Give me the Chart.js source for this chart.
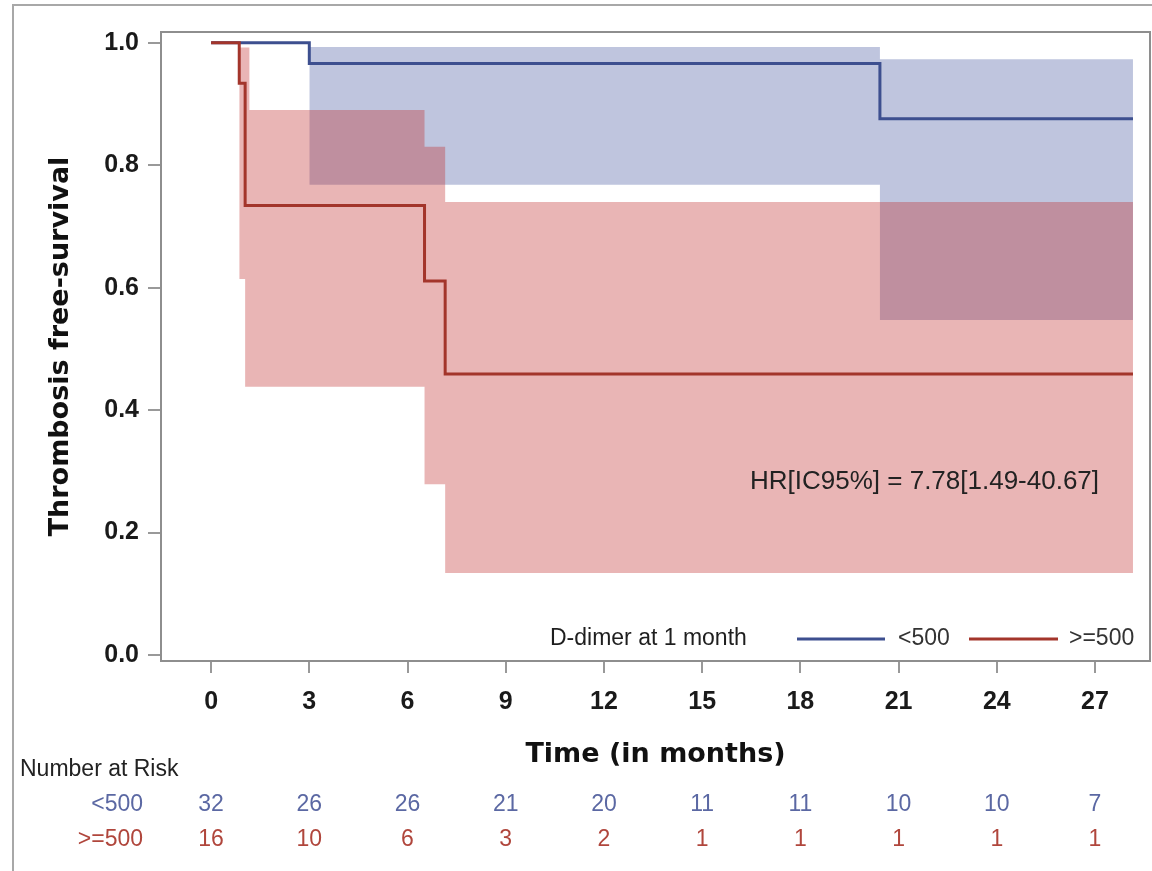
<!DOCTYPE html>
<html>
<head>
<meta charset="utf-8">
<title>Thrombosis free-survival</title>
<script src="https://cdn.jsdelivr.net/npm/chart.js@4.4.1/dist/chart.umd.min.js"></script>
<style>
    html, body { margin: 0; padding: 0; background: #fff; }
    canvas { display: block; }
</style>
</head>
<body>
<canvas id="kmChart" width="1152" height="871"></canvas>
<script>
// curva D-dimer < 500
var timeLow = [0, 3.0, 20.43, 28.16];
var survLow = [1, 0.966, 0.876, 0.876];
// banda IC < 500
var bandTimeLow = [3.0, 20.43, 28.16];
var upperLow = [0.993, 0.973, 0.973];
var lowerLow = [0.768, 0.547, 0.547];

// curva D-dimer >= 500
var timeHigh = [0, 0.86, 1.04, 6.52, 7.15, 28.16];
var survHigh = [1, 0.934, 0.734, 0.611, 0.459, 0.459];
// banda IC >= 500
var bandTimeHigh = [0.86, 1.04, 1.17, 6.52, 7.15, 28.16];
var upperHigh = [0.992, 0.992, 0.890, 0.830, 0.740, 0.740];
var lowerHigh = [0.614, 0.438, 0.438, 0.279, 0.134, 0.134];

var xTicks = [0, 3, 6, 9, 12, 15, 18, 21, 24, 27];
var yTicks = [0, 0.2, 0.4, 0.6, 0.8, 1.0];

// numero em risco
var riskLow = [32, 26, 26, 21, 20, 11, 11, 10, 10, 7];
var riskHigh = [16, 10, 6, 3, 2, 1, 1, 1, 1, 1];

var corAzul = '#3d4f8f';
var corVermelho = '#a3352b';
var fonteTexto = '"Liberation Sans", Arial, sans-serif';

function pontos(xs, ys) {
    var out = [];
    for (var i = 0; i < xs.length; i++) {
        out.push({ x: xs[i], y: ys[i] });
    }
    return out;
}

function linha(xs, ys, cor) {
    return {
        data: pontos(xs, ys),
        showLine: true,
        stepped: true,
        borderColor: cor,
        borderWidth: 3,
        borderCapStyle: 'butt',
        pointRadius: 0,
        fill: false
    };
}

function borda(xs, ys, fill, cor) {
    return {
        data: pontos(xs, ys),
        showLine: true,
        stepped: true,
        borderColor: 'rgba(0,0,0,0)',
        borderWidth: 0,
        pointRadius: 0,
        fill: fill,
        backgroundColor: cor
    };
}

const moldura = {
    id: 'moldura',
    beforeDraw(chart) {
        const ctx = chart.ctx;
        ctx.save();
        ctx.strokeStyle = '#a8a8a8';
        ctx.lineWidth = 2;
        ctx.beginPath();
        ctx.moveTo(13, chart.height);
        ctx.lineTo(13, 5);
        ctx.lineTo(chart.width, 5);
        ctx.stroke();
        ctx.restore();
    },
    afterDatasetsDraw(chart) {
        const a = chart.chartArea;
        const ctx = chart.ctx;
        ctx.save();
        ctx.strokeStyle = '#8e8e8e';
        ctx.lineWidth = 2;
        ctx.strokeRect(a.left, a.top, a.right - a.left, a.bottom - a.top);
        ctx.restore();
    }
};

const legendaInterna = {
    id: 'legendaInterna',
    afterDraw(chart) {
        const ctx = chart.ctx;
        const y = 639;
        ctx.save();
        ctx.textBaseline = 'middle';
        ctx.textAlign = 'left';
        ctx.font = '23px ' + fonteTexto;
        ctx.fillStyle = '#1e1e1e';
        ctx.fillText('D-dimer at 1 month', 550, y);
        ctx.fillStyle = '#333';
        ctx.fillText('<500', 898, y);
        ctx.fillText('>=500', 1069, y);
        ctx.lineWidth = 3;
        ctx.strokeStyle = corAzul;
        ctx.beginPath();
        ctx.moveTo(797, y);
        ctx.lineTo(885, y);
        ctx.stroke();
        ctx.strokeStyle = corVermelho;
        ctx.beginPath();
        ctx.moveTo(969, y);
        ctx.lineTo(1058, y);
        ctx.stroke();

        // HR
        ctx.font = '26px ' + fonteTexto;
        ctx.fillStyle = '#222';
        ctx.fillText('HR[IC95%] = 7.78[1.49-40.67]', 750, 482);
        ctx.restore();
    }
};

const tabelaRisco = {
    id: 'tabelaRisco',
    afterDraw(chart) {
        const ctx = chart.ctx;
        const x = chart.scales.x;
        ctx.save();
        ctx.textBaseline = 'middle';
        ctx.font = '23px ' + fonteTexto;
        ctx.fillStyle = '#222';
        ctx.textAlign = 'left';
        ctx.fillText('Number at Risk', 20, 770);
        ctx.textAlign = 'right';
        ctx.fillStyle = '#5b68a3';
        ctx.fillText('<500', 143, 805);
        ctx.fillStyle = '#b0463c';
        ctx.fillText('>=500', 143, 840);
        ctx.textAlign = 'center';
        for (var i = 0; i < xTicks.length; i++) {
            var px = x.getPixelForValue(xTicks[i]);
            ctx.fillStyle = '#5b68a3';
            ctx.fillText(String(riskLow[i]), px, 805);
            ctx.fillStyle = '#b0463c';
            ctx.fillText(String(riskHigh[i]), px, 840);
        }
        ctx.restore();
    }
};

const config = {
    type: 'scatter',
    data: {
        datasets: [
            linha(timeHigh, survHigh, corVermelho),
            linha(timeLow, survLow, corAzul),
            borda(bandTimeHigh, upperHigh, '+1', 'rgba(192, 44, 44, 0.35)'),
            borda(bandTimeHigh, lowerHigh, false, 'rgba(0,0,0,0)'),
            borda(bandTimeLow, upperLow, '+1', 'rgba(72, 89, 161, 0.35)'),
            borda(bandTimeLow, lowerLow, false, 'rgba(0,0,0,0)')
        ]
    },
    options: {
        responsive: false,
        animation: false,
        devicePixelRatio: 1,
        layout: {
            padding: { top: 32, right: 2, left: 0, bottom: 0 }
        },
        plugins: {
            legend: { display: false },
            tooltip: { enabled: false }
        },
        scales: {
            x: {
                type: 'linear',
                min: -1.53,
                max: 28.68,
                afterBuildTicks: function (axis) {
                    axis.ticks = xTicks.map(function (v) { return { value: v }; });
                },
                afterFit: function (axis) {
                    axis.height = 210;
                },
                border: { display: false },
                grid: {
                    drawOnChartArea: false,
                    tickLength: 12,
                    color: '#999',
                    lineWidth: 2
                },
                ticks: {
                    padding: 14,
                    color: '#1a1a1a',
                    maxRotation: 0,
                    autoSkip: false,
                    font: { family: fonteTexto, size: 25, weight: 'bold' }
                },
                title: {
                    display: true,
                    text: 'Time (in months)',
                    color: '#111',
                    font: { family: '"DejaVu Sans", sans-serif', size: 27, weight: 'bold' },
                    padding: { top: 0, bottom: 100 }
                }
            },
            y: {
                type: 'linear',
                min: -0.0098,
                max: 1.0175,
                afterBuildTicks: function (axis) {
                    axis.ticks = yTicks.map(function (v) { return { value: v }; });
                },
                afterFit: function (axis) {
                    axis.width = 161;
                },
                border: { display: false },
                grid: {
                    drawOnChartArea: false,
                    tickLength: 13,
                    color: '#999',
                    lineWidth: 2
                },
                ticks: {
                    padding: 9,
                    color: '#1a1a1a',
                    font: { family: fonteTexto, size: 25, weight: 'bold' },
                    callback: function (v) { return Number(v).toFixed(1); }
                },
                title: {
                    display: true,
                    text: 'Thrombosis free-survival',
                    color: '#111',
                    font: { family: '"DejaVu Sans", sans-serif', size: 27, weight: 'bold' },
                    padding: { top: 45, bottom: 0 }
                }
            }
        }
    },
    plugins: [moldura, legendaInterna, tabelaRisco]
};

const kmChart = new Chart(document.getElementById('kmChart'), config);
</script>
</body>
</html>
